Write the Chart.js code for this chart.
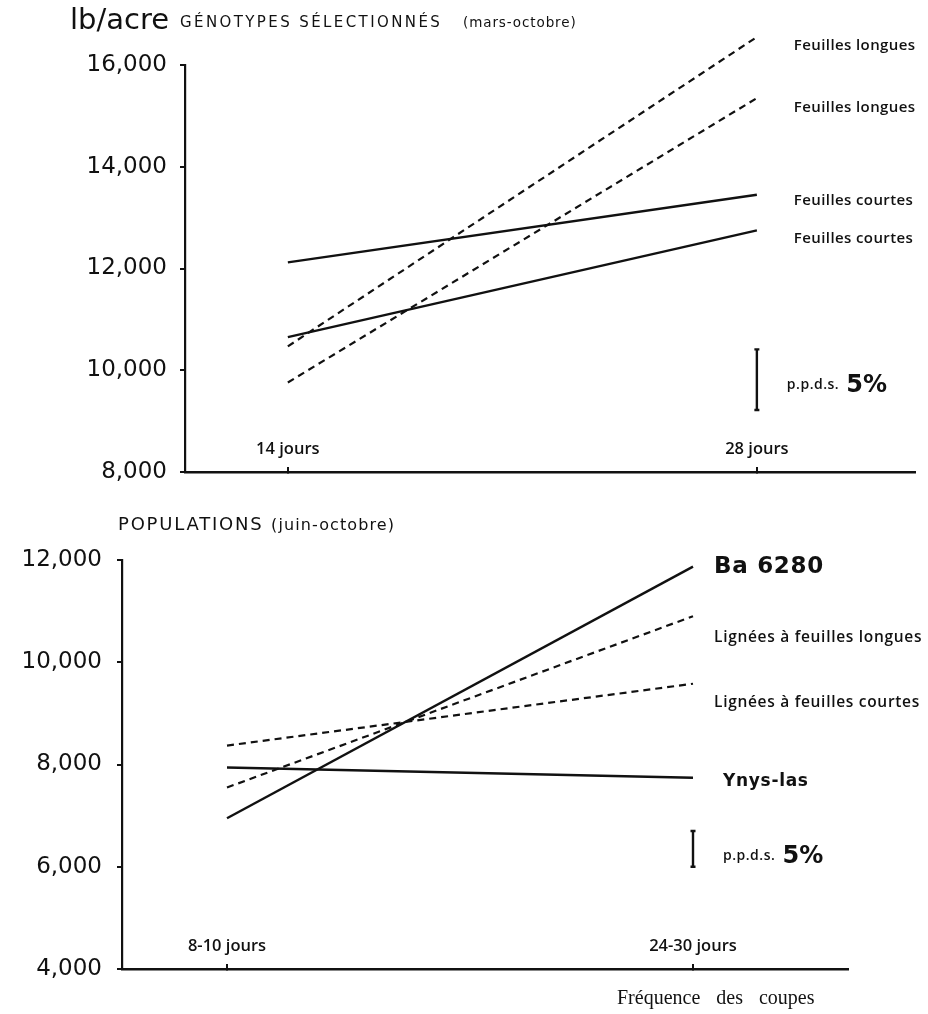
<!DOCTYPE html>
<html>
<head>
<meta charset="utf-8">
<script src="https://cdn.jsdelivr.net/npm/chart.js@4.4.1/dist/chart.umd.min.js"></script>
<style>
  body { margin: 0; background: #fff; }
  #page { position: relative; width: 928px; height: 1014px; overflow: hidden; background: #fff; color: #111; }
  canvas { position: absolute; left: 0; }
  #top { top: 0; }
  #bottom { top: 500px; }
  .txt { position: absolute; white-space: nowrap; font-family: "DejaVu Sans", sans-serif; color: #111; }
</style>
</head>
<body>
<div id="page">
  <canvas id="top" width="928" height="500"></canvas>
  <canvas id="bottom" width="928" height="514"></canvas>

  <div class="txt" style="left:70px; top:2px; font-size:29px;">lb/acre</div>
  <div class="txt" style="left:180px; top:13px; font-size:15px; letter-spacing:2.4px;">GÉNOTYPES SÉLECTIONNÉS</div>
  <div class="txt" style="left:463px; top:14px; font-size:13.5px; letter-spacing:0.9px;">(mars-octobre)</div>

  <div class="txt" style="left:118px; top:513px; font-size:18px; letter-spacing:1.8px;">POPULATIONS <span style="font-size:16px; letter-spacing:1.1px;">(juin-octobre)</span></div>

  <div class="txt" style="left:617px; top:986px; font-family:'Liberation Serif', serif; font-size:20px; word-spacing:11px;">Fréquence des coupes</div>
</div>

<script>
// Haut : génotypes sélectionnés (mars-octobre)
const joursHaut = [14, 28];
const ticksXHaut = [14, 28];
const labelsXHaut = ['14 jours', '28 jours'];
const ticksYHaut = [8000, 10000, 12000, 14000, 16000];
const longues1 = [10470, 16550];
const longues2 = [9760, 15350];
const courtes1 = [12120, 13450];
const courtes2 = [10650, 12750];
const ppdsHaut = [9220, 10410];

// Bas : populations (juin-octobre)
const frequences = [0, 1];
const labelsXBas = ['8-10 jours', '24-30 jours'];
const ticksYBas = [4000, 6000, 8000, 10000, 12000];
const ba6280 = [6950, 11870];
const ligneesLongues = [7550, 10900];
const ligneesCourtes = [8370, 9580];
const ynysLas = [7940, 7740];
const ppdsBas = [6000, 6700];

const INK = '#111';

function pts(xs, ys) {
  return xs.map((x, i) => ({ x: x, y: ys[i] }));
}

function serie(label, xs, ys, dashed, labelFont, labelDy, labelDx) {
  return {
    label: label,
    data: pts(xs, ys),
    borderColor: INK,
    borderWidth: dashed ? 2.2 : 2.4,
    borderDash: dashed ? [7, 5] : [],
    pointRadius: 0,
    tension: 0,
    clip: false,
    labelFont: labelFont,
    labelDy: labelDy,
    labelDx: labelDx || 0
  };
}

function fmt(v) {
  return String(v).replace(/\B(?=(\d{3})+(?!\d))/g, ',');
}

// Etiquettes en bout de ligne + barre p.p.d.s.
const annotations = {
  id: 'annotations',
  afterDatasetsDraw(chart, args, opts) {
    const ctx = chart.ctx;
    const xs = chart.scales.x, ys = chart.scales.y;
    ctx.save();
    ctx.fillStyle = INK;
    ctx.textBaseline = 'middle';
    ctx.textAlign = 'left';
    chart.data.datasets.forEach((ds, i) => {
      const last = chart.getDatasetMeta(i).data[ds.data.length - 1];
      ctx.font = ds.labelFont;
      ctx.letterSpacing = opts.spacing;
      ctx.fillText(ds.label, last.x + opts.gap + ds.labelDx, last.y + ds.labelDy);
    });
    ctx.letterSpacing = '0px';

    // barre p.p.d.s. 5%
    const bx = xs.getPixelForValue(opts.ppdsX);
    const y1 = ys.getPixelForValue(opts.ppds[0]);
    const y2 = ys.getPixelForValue(opts.ppds[1]);
    ctx.strokeStyle = INK;
    ctx.lineWidth = 2.4;
    ctx.beginPath();
    ctx.moveTo(bx, y1); ctx.lineTo(bx, y2);
    ctx.moveTo(bx - 2.5, y1); ctx.lineTo(bx + 2.5, y1);
    ctx.moveTo(bx - 2.5, y2); ctx.lineTo(bx + 2.5, y2);
    ctx.stroke();

    const ty = (y1 + y2) / 2 + opts.ppdsDy;
    ctx.textBaseline = 'alphabetic';
    ctx.font = '600 14px "Open Sans", sans-serif';
    ctx.letterSpacing = '0.5px';
    const tx = bx + opts.ppdsGap;
    ctx.fillText('p.p.d.s.', tx, ty + 5);
    const w = ctx.measureText('p.p.d.s. ').width;
    ctx.letterSpacing = '0px';
    ctx.font = 'bold 24px "DejaVu Sans", sans-serif';
    ctx.fillText('5%', tx + w + 3, ty + 8);
    ctx.restore();
  }
};

function options(cfg) {
  return {
    responsive: false,
    animation: false,
    layout: { padding: { top: cfg.top, right: cfg.right, left: 0, bottom: 0 } },
    plugins: {
      legend: { display: false },
      tooltip: { enabled: false },
      annotations: {
        gap: cfg.gap,
        spacing: cfg.spacing,
        ppds: cfg.ppds,
        ppdsX: cfg.ppdsX,
        ppdsGap: 30,
        ppdsDy: cfg.ppdsDy
      }
    },
    scales: {
      x: {
        type: 'linear',
        min: cfg.xMin,
        max: cfg.xMax,
        afterBuildTicks: s => { s.ticks = cfg.xTicks.map(v => ({ value: v })); },
        afterFit: s => { s.height = cfg.xHeight; },
        grid: { drawOnChartArea: false, drawTicks: true, tickLength: -5, color: INK, lineWidth: 2 },
        border: { color: INK, width: 2.5 },
        ticks: {
          mirror: true,
          padding: 13,
          maxRotation: 0,
          autoSkip: false,
          color: INK,
          font: { family: '"Open Sans", sans-serif', size: 16.5, weight: '600' },
          callback: v => cfg.xLabels[cfg.xTicks.indexOf(v)]
        }
      },
      y: {
        type: 'linear',
        min: cfg.yTicks[0],
        max: cfg.yTicks[cfg.yTicks.length - 1],
        afterBuildTicks: s => { s.ticks = cfg.yTicks.map(v => ({ value: v })); },
        afterFit: s => { s.width = cfg.yWidth; },
        grid: { drawOnChartArea: false, drawTicks: true, tickLength: 5, color: INK, lineWidth: 2 },
        border: { color: INK, width: 2.2 },
        ticks: {
          padding: cfg.yPad,
          color: INK,
          font: { family: '"DejaVu Sans", sans-serif', size: 23 },
          callback: v => fmt(v)
        }
      }
    }
  };
}

const labelHaut = '600 15px "Open Sans", sans-serif';
const labelBas = '600 15.5px "Open Sans", sans-serif';

new Chart(document.getElementById('top'), {
  type: 'line',
  data: {
    datasets: [
      serie('Feuilles longues', joursHaut, longues1, true, labelHaut, 9),
      serie('Feuilles longues', joursHaut, longues2, true, labelHaut, 10),
      serie('Feuilles courtes', joursHaut, courtes1, false, labelHaut, 6),
      serie('Feuilles courtes', joursHaut, courtes2, false, labelHaut, 8)
    ]
  },
  options: options({
    top: 65, right: 13, gap: 37, spacing: '0.4px',
    xMin: 10.93, xMax: 32.72, xTicks: ticksXHaut, xLabels: labelsXHaut, xHeight: 28,
    yTicks: ticksYHaut, yWidth: 185, yPad: 13,
    ppds: ppdsHaut, ppdsX: 28, ppdsDy: 4
  }),
  plugins: [annotations]
});

new Chart(document.getElementById('bottom'), {
  type: 'line',
  data: {
    datasets: [
      serie('Ba 6280', frequences, ba6280, false, 'bold 23px "DejaVu Sans", sans-serif', 0),
      serie('Lignées à feuilles longues', frequences, ligneesLongues, true, labelBas, 21),
      serie('Lignées à feuilles courtes', frequences, ligneesCourtes, true, labelBas, 19),
      serie('Ynys-las', frequences, ynysLas, false, 'bold 17px "DejaVu Sans", sans-serif', 4, 9)
    ]
  },
  options: options({
    top: 60, right: 80, gap: 21, spacing: '0.7px',
    xMin: -0.2253, xMax: 1.3326, xTicks: frequences, xLabels: labelsXBas, xHeight: 45,
    yTicks: ticksYBas, yWidth: 122, yPad: 15,
    ppds: ppdsBas, ppdsX: 1, ppdsDy: 6
  }),
  plugins: [annotations]
});
</script>
</body>
</html>
